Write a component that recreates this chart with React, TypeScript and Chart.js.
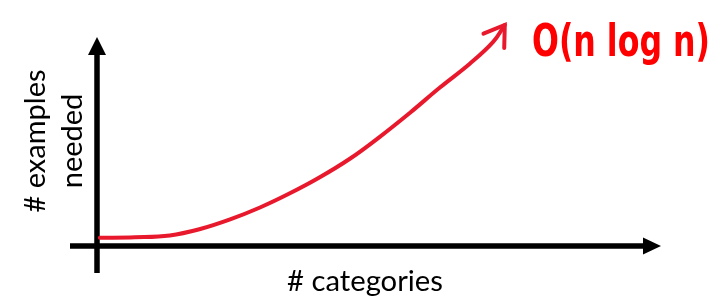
import React, { useEffect, useRef } from "react";
import { Chart, registerables } from "chart.js";

Chart.register(...registerables);

// ---- data ----
const categories = [0.5, 6.7, 12.9, 18.3, 23.6, 28.9, 34.2, 39.5, 44.9, 50.2, 55.5, 60.8, 66.1, 70.2, 72.3];
const examplesNeeded = [3.6, 3.8, 4.6, 7.4, 11.6, 16.8, 23.0, 30.0, 38.2, 47.8, 58.2, 69.2, 79.6, 89.0, 96.5];
const xAxisTitle = "# categories";
const yAxisTitle = ["# examples", "needed"];
const annotationText = "O(n log n)";
const xAxisEnd = 100;
const yAxisEnd = 91.3;

const LABEL_FONT = "Lato, 'Open Sans', sans-serif";

function fitFont(ctx: CanvasRenderingContext2D, text: string, weight: string, family: string, target: number) {
  ctx.font = `${weight} 100px ${family}`;
  const w = ctx.measureText(text).width;
  return (100 * target) / w;
}

const drawingPlugin = {
  id: "sketch",
  beforeDatasetsDraw(chart: any) {
    const ctx: CanvasRenderingContext2D = chart.ctx;
    const xs = chart.scales.x;
    const ys = chart.scales.y;
    const x0 = xs.getPixelForValue(0);
    const y0 = ys.getPixelForValue(0);
    const xTip = xs.getPixelForValue(xAxisEnd);
    const yTip = ys.getPixelForValue(yAxisEnd);
    ctx.save();
    ctx.strokeStyle = "#000";
    ctx.fillStyle = "#000";
    ctx.lineWidth = 5.5;
    ctx.lineCap = "butt";
    // x axis
    ctx.beginPath();
    ctx.moveTo(x0 - 27, y0);
    ctx.lineTo(xTip - 16, y0);
    ctx.stroke();
    ctx.beginPath();
    ctx.moveTo(xTip, y0);
    ctx.lineTo(xTip - 18, y0 - 8.5);
    ctx.lineTo(xTip - 18, y0 + 8.5);
    ctx.closePath();
    ctx.fill();
    // y axis
    ctx.beginPath();
    ctx.moveTo(x0, y0 + 27);
    ctx.lineTo(x0, yTip + 16);
    ctx.stroke();
    ctx.beginPath();
    ctx.moveTo(x0, yTip);
    ctx.lineTo(x0 - 9, yTip + 18);
    ctx.lineTo(x0 + 9, yTip + 18);
    ctx.closePath();
    ctx.fill();
    ctx.restore();
  },
  afterDatasetsDraw(chart: any) {
    const ctx: CanvasRenderingContext2D = chart.ctx;
    const meta = chart.getDatasetMeta(0);
    const pts = meta.data;
    const last = pts[pts.length - 1];
    const prev = pts[pts.length - 2];
    const ang = Math.atan2(prev.y - last.y, prev.x - last.x);
    const len = 23;
    const spread = 0.58;
    ctx.save();
    ctx.strokeStyle = "#e8192c";
    ctx.lineWidth = 4;
    ctx.lineCap = "round";
    ctx.beginPath();
    ctx.moveTo(last.x + Math.cos(ang + spread) * len, last.y + Math.sin(ang + spread) * len);
    ctx.lineTo(last.x, last.y);
    ctx.lineTo(last.x + Math.cos(ang - spread) * len, last.y + Math.sin(ang - spread) * len);
    ctx.stroke();
    ctx.restore();
  },
  afterDraw(chart: any) {
    const ctx: CanvasRenderingContext2D = chart.ctx;
    const area = chart.chartArea;
    ctx.save();
    ctx.fillStyle = "#000";
    // x title
    const xs = fitFont(ctx, xAxisTitle, "normal", LABEL_FONT, 156);
    ctx.font = `normal ${xs}px ${LABEL_FONT}`;
    ctx.textAlign = "center";
    ctx.textBaseline = "alphabetic";
    ctx.fillText(xAxisTitle, area.left + 268, area.bottom + 45);
    // y title (two lines, rotated)
    const ysz = fitFont(ctx, yAxisTitle[0], "normal", LABEL_FONT, 143);
    ctx.font = `normal ${ysz}px ${LABEL_FONT}`;
    const cy = 141;
    const baselines = [45, 82];
    yAxisTitle.forEach((line, i) => {
      ctx.save();
      ctx.translate(baselines[i], cy);
      ctx.rotate(-Math.PI / 2);
      ctx.fillText(line, 0, 0);
      ctx.restore();
    });
    // annotation
    const fam = "'DejaVu Sans', sans-serif";
    ctx.font = `bold 44px ${fam}`;
    const w = ctx.measureText(annotationText).width;
    const sx = 178 / w;
    ctx.save();
    ctx.fillStyle = "#ff0000";
    ctx.translate(532, 56);
    ctx.scale(sx, 1);
    ctx.textAlign = "left";
    ctx.fillText(annotationText, 0, 0);
    ctx.restore();
    ctx.restore();
  },
};

export default function App() {
  const ref = useRef<HTMLCanvasElement | null>(null);
  useEffect(() => {
    document.body.style.margin = "0";
    const canvas = ref.current!;
    const chart = new Chart(canvas, {
      type: "line",
      data: {
        datasets: [
          {
            data: categories.map((c, i) => ({ x: c, y: examplesNeeded[i] })),
            borderColor: "#e8192c",
            borderWidth: 4,
            pointRadius: 0,
            tension: 0.4,
            fill: false,
            clip: false as any,
            borderCapStyle: "round",
          },
        ],
      },
      options: {
        animation: false,
        responsive: false,
        maintainAspectRatio: false,
        layout: { padding: { left: 97, right: 51, top: 17, bottom: 51 } },
        plugins: { legend: { display: false }, tooltip: { enabled: false }, title: { display: false } },
        scales: {
          x: { type: "linear", min: 0, max: 100, display: false },
          y: { type: "linear", min: 0, max: 100, display: false },
        },
      },
      plugins: [drawingPlugin],
    });
    return () => chart.destroy();
  }, []);
  return (
    <div style={{ width: 712, height: 297, background: "#fff" }}>
      <canvas ref={ref} width={712} height={297} style={{ display: "block" }} />
    </div>
  );
}
